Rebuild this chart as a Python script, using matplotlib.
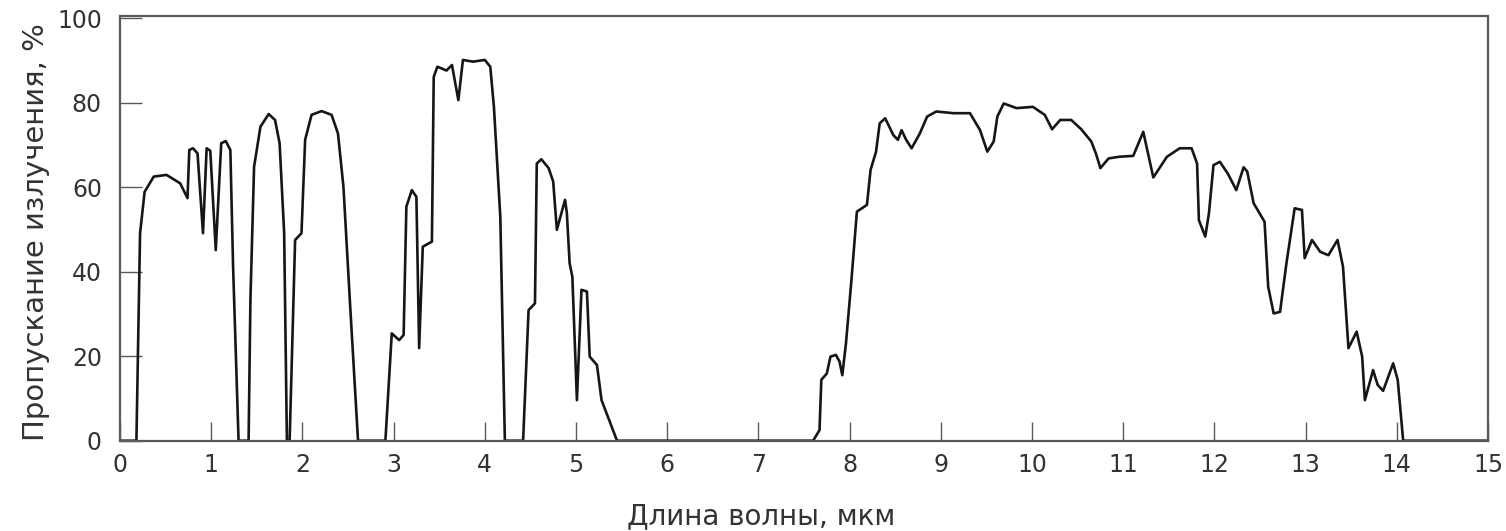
import matplotlib
matplotlib.use("Agg")
import matplotlib.pyplot as plt

# ---- data (wavelength in µm, transmission in %) ----
band1_wl = [0, 0.18, 0.22, 0.27, 0.37, 0.51, 0.66, 0.74, 0.76, 0.80, 0.85, 0.91,
            0.95, 0.99, 1.05, 1.11, 1.16, 1.21, 1.24, 1.30]
band1_tr = [0, 0, 49.1, 58.9, 62.5, 62.9, 60.9, 57.4, 68.8, 69.2, 68.0, 49.1,
            69.2, 68.6, 45.1, 70.4, 70.9, 68.8, 41.2, 0]

band2_wl = [1.41, 1.43, 1.47, 1.54, 1.63, 1.70, 1.75, 1.80, 1.83]
band2_tr = [0, 33.3, 64.8, 74.3, 77.3, 75.9, 70.4, 49.1, 0]

band3_wl = [1.86, 1.92, 1.99, 2.03, 2.10, 2.21, 2.32, 2.39, 2.45, 2.52, 2.61]
band3_tr = [0, 47.5, 49.1, 71.2, 77.1, 78.0, 77.1, 72.7, 60.1, 33.3, 0]

band4_wl = [2.91, 2.98, 3.06, 3.11, 3.14, 3.20, 3.25, 3.28, 3.32, 3.42, 3.44,
            3.48, 3.58, 3.64, 3.71, 3.76, 3.87, 4.00, 4.06, 4.10, 4.17, 4.22]
band4_tr = [0, 25.4, 23.8, 25.0, 55.4, 59.3, 57.7, 21.9, 45.9, 47.1, 86.1,
            88.5, 87.6, 88.9, 80.6, 90.1, 89.7, 90.1, 88.5, 79.0, 53.0, 0]

band5_wl = [4.42, 4.48, 4.55, 4.57, 4.62, 4.70, 4.75, 4.79, 4.88, 4.90, 4.93,
            4.96, 5.01, 5.06, 5.12, 5.15, 5.23, 5.28, 5.45]
band5_tr = [0, 30.9, 32.5, 65.6, 66.6, 64.5, 61.3, 49.9, 57.0, 53.8, 42.0,
            38.8, 9.6, 35.7, 35.3, 19.9, 17.9, 9.6, 0]

band6_wl = [7.60, 7.67, 7.69, 7.75, 7.79, 7.85, 7.89, 7.92, 7.96, 8.02, 8.08,
            8.19, 8.23, 8.29, 8.33, 8.39, 8.48, 8.53, 8.57, 8.62, 8.68, 8.77,
            8.85, 8.95, 9.14, 9.32, 9.43, 9.51, 9.58, 9.62, 9.69, 9.83, 10.01,
            10.14, 10.22, 10.31, 10.43, 10.54, 10.65, 10.70, 10.75, 10.84]
band6_tr = [0, 2.5, 14.4, 15.9, 19.9, 20.3, 18.7, 15.5, 23.0, 38.0, 54.2,
            55.8, 64.1, 68.4, 75.1, 76.3, 72.3, 71.2, 73.5, 71.2, 69.2, 72.7,
            76.7, 77.9, 77.5, 77.5, 73.5, 68.4, 70.8, 76.7, 79.8, 78.7, 79.0,
            77.1, 73.7, 75.9, 75.9, 73.7, 70.8, 68.0, 64.5, 66.8]

band7_wl = [10.96, 11.11, 11.22, 11.33, 11.48, 11.62, 11.75, 11.81, 11.83,
            11.90, 11.94, 11.99, 12.06, 12.15, 12.24, 12.32, 12.36, 12.43,
            12.55, 12.59, 12.65, 12.72, 12.79, 12.88, 12.96, 12.99, 13.07,
            13.16, 13.25, 13.35, 13.41, 13.47, 13.56, 13.62, 13.65, 13.74,
            13.79, 13.85, 13.96, 14.01, 14.07, 15.0]
band7_tr = [67.2, 67.4, 73.1, 62.3, 67.2, 69.2, 69.2, 65.6, 52.2,
            48.3, 53.8, 65.2, 66.0, 63.1, 59.3, 64.7, 63.7, 56.2,
            51.8, 36.4, 30.1, 30.5, 42.0, 55.0, 54.6, 43.2, 47.5,
            44.7, 43.9, 47.5, 41.2, 21.9, 25.8, 19.9, 9.6, 16.7,
            13.2, 11.8, 18.3, 14.4, 0, 0]

x_ticks = list(range(0, 16))
y_ticks = [0, 20, 40, 60, 80, 100]
x_label = "Длина волны, мкм"
y_label = "Пропускание излучения, %"

wavelength = (band1_wl + band2_wl + band3_wl + band4_wl + band5_wl
              + band6_wl + band7_wl)
transmission = (band1_tr + band2_tr + band3_tr + band4_tr + band5_tr
                + band6_tr + band7_tr)

# ---- figure ----
W, H, DPI = 1506, 531, 100
fig = plt.figure(figsize=(W / DPI, H / DPI), dpi=DPI)
left, right, top, bottom = 120, 1488, 16, 440.7
ax = fig.add_axes([left / W, 1 - bottom / H, (right - left) / W, (bottom - top) / H])

ax.plot(wavelength, transmission, color="#161616", lw=1.9,
        solid_joinstyle="round", zorder=2)

ax.set_xlim(0, 15)
ax.set_ylim(0, 100.5)
ax.set_xticks(x_ticks)
ax.set_yticks(y_ticks)

spine_c = "#5a5a5a"
for s in ax.spines.values():
    s.set_color(spine_c)
    s.set_linewidth(1.6)

ax.tick_params(axis="x", direction="in", length=14, width=1.0, color=spine_c,
               pad=9, labelsize=17, labelcolor="#333333")
ax.tick_params(axis="y", direction="in", length=16, width=1.0, color=spine_c,
               pad=13, labelsize=17, labelcolor="#333333")
for lab in ax.get_xticklabels() + ax.get_yticklabels():
    lab.set_family("DejaVu Sans")

ax.set_xlabel(x_label, fontsize=20, color="#333333", family="DejaVu Sans")
ax.xaxis.set_label_coords((761 - left) / (right - left), -0.1436)
ax.xaxis.label.set_va("top")

ax.set_ylabel(y_label, fontsize=21, color="#333333", family="DejaVu Sans")
ax.yaxis.set_label_coords((50 - left) / (right - left), 0.491)

fig.savefig("out.png", dpi=DPI, facecolor="white")
